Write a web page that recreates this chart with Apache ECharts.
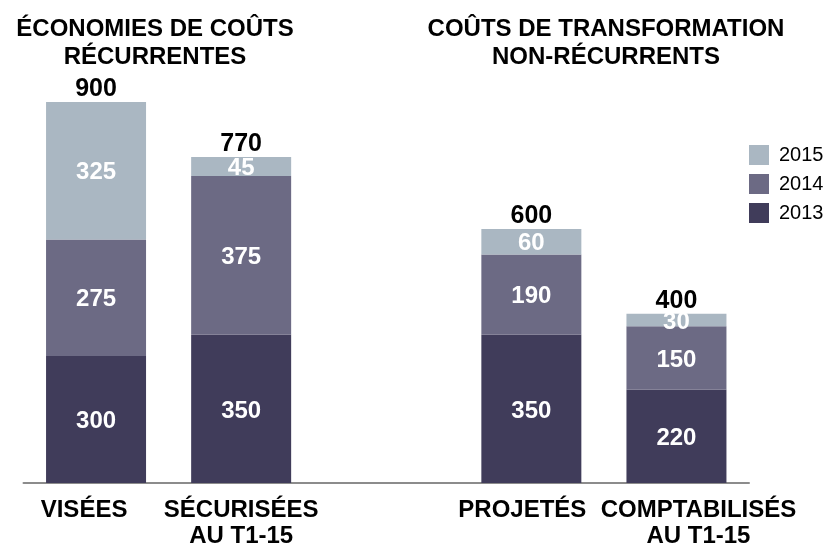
<!DOCTYPE html>
<html>
<head>
<meta charset="utf-8">
<script src="https://cdn.jsdelivr.net/npm/echarts@6/dist/echarts.min.js"></script>
<style>
  html, body { margin: 0; padding: 0; background: #fff; }
  #chart { width: 836px; height: 549px; }
</style>
</head>
<body>
<div id="chart"></div>
<script>
// categories (the empty one is the gap between the two groups)
const categories = ['VISÉES', 'SÉCURISÉES\nAU T1-15', '', 'PROJETÉS', 'COMPTABILISÉS\nAU T1-15'];
const values2013 = [300, 350, '-', 350, 220];
const values2014 = [275, 375, '-', 190, 150];
const values2015 = [325, 45, '-', 60, 30];
const groupTitles = ['ÉCONOMIES DE COÛTS\nRÉCURRENTES', 'COÛTS DE TRANSFORMATION\nNON-RÉCURRENTS'];

const colors = { '2013': '#403c5a', '2014': '#6c6a84', '2015': '#aab7c2' };
const font = 'Arial, "Liberation Sans", sans-serif';
// labels are not quite centred under their bars in the original
const labelShift = [12, 0, 0, 9, -22];

function total(i) {
  const parts = [values2013[i], values2014[i], values2015[i]];
  if (parts.some(v => v === '-')) return '';
  return parts.reduce((a, b) => a + b, 0);
}

function segment(name, data) {
  return {
    name,
    type: 'bar',
    stack: 'all',
    barWidth: 100,
    data,
    itemStyle: { color: colors[name] },
    label: {
      show: true,
      position: 'inside',
      offset: [0, 2],
      color: '#fff',
      fontFamily: font,
      fontWeight: 'bold',
      fontSize: 24
    }
  };
}

const axisData = categories.map((c, i) => {
  const s = labelShift[i];
  return {
    value: c,
    textStyle: { padding: s >= 0 ? [0, 2 * s, 0, 0] : [0, 0, 0, -2 * s] }
  };
});

const titleStyle = { fontFamily: font, fontWeight: 'bold', fontSize: 24, lineHeight: 28, color: '#000' };

const chart = echarts.init(document.getElementById('chart'));
chart.setOption({
  animation: false,
  title: [
    { text: groupTitles[0], left: 150, top: 10, textAlign: 'center', textStyle: titleStyle },
    { text: groupTitles[1], left: 601, top: 10, textAlign: 'center', textStyle: titleStyle }
  ],
  legend: {
    data: ['2015', '2014', '2013'],
    orient: 'vertical',
    left: 744,
    top: 140,
    itemWidth: 20,
    itemHeight: 20,
    itemGap: 9,
    icon: 'rect',
    textStyle: { fontFamily: font, fontSize: 20, color: '#000', padding: [0, 0, 0, 5] }
  },
  grid: { left: 23.5, right: 87, top: 102, bottom: 65 },
  xAxis: {
    type: 'category',
    data: axisData,
    axisTick: { show: false },
    axisLine: { lineStyle: { color: '#8c8c8c', width: 2 } },
    axisLabel: {
      interval: 0,
      margin: 14,
      color: '#000',
      fontFamily: font,
      fontWeight: 'bold',
      fontSize: 24,
      lineHeight: 26
    }
  },
  yAxis: {
    type: 'value',
    min: 0,
    max: 900,
    show: false,
    splitLine: { show: false }
  },
  series: [
    segment('2013', values2013),
    segment('2014', values2014),
    segment('2015', values2015),
    {
      name: 'total',
      type: 'bar',
      stack: 'all',
      barWidth: 100,
      data: categories.map((c, i) => (total(i) === '' ? '-' : 0)),
      itemStyle: { color: 'transparent' },
      label: {
        show: true,
        position: 'top',
        distance: 0,
        color: '#000',
        fontFamily: font,
        fontWeight: 'bold',
        fontSize: 25,
        formatter: p => total(p.dataIndex)
      }
    }
  ]
});
</script>
</body>
</html>
